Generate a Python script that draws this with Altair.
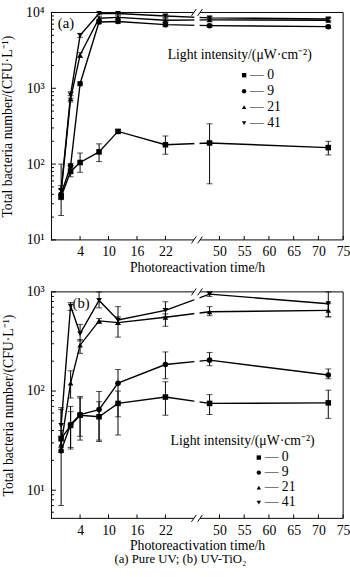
import altair as alt
import pandas as pd

FONT = "Liberation Serif"

# ---------------- data ----------------
times = [0, 2, 4, 8, 12, 22, 48, 72]
series_names = ["0", "9", "21", "41"]
series_shapes = ["square", "circle", "triangle-up", "triangle-down"]

# panel (a) Pure UV
a_0 = [37, 80, 105, 145, 270, 180, 190, 165]
a_0_lo = [21, 68, 78, 108, 255, 135, 55, 132]
a_0_hi = [100, 95, 140, 185, 285, 235, 340, 200]
a_9 = [40, 95, 1150, 7500, 7600, 6900, 6700, 6500]
a_9_lo = [34, 88, 1080, 7100, 7200, 6500, 6400, 6200]
a_9_hi = [46, 102, 1220, 7900, 8000, 7300, 7000, 6800]
a_21 = [42, 730, 2750, 8400, 8600, 7900, 8000, 7900]
a_21_lo = [36, 660, 2550, 8000, 8200, 7500, 7600, 7500]
a_21_hi = [48, 800, 2950, 8800, 9000, 8300, 8400, 8300]
a_41 = [45, 820, 5000, 9700, 9700, 9000, 8500, 8200]
a_41_lo = [38, 740, 4700, 9300, 9300, 8600, 8100, 7800]
a_41_hi = [52, 900, 5300, 10000, 10000, 9400, 8900, 8600]

# panel (b) UV-TiO2
b_0 = [33, 45, 57, 55, 75, 87, 75, 76]
b_0_lo = [27, 26, 32, 31, 55, 57, 58, 53]
b_0_hi = [40, 62, 88, 78, 100, 124, 92, 102]
b_9 = [25, 46, 58, 65, 120, 185, 205, 145]
b_9_lo = [7, 27, 35, 32, 36, 133, 180, 133]
b_9_hi = [68, 70, 85, 99, 165, 248, 245, 167]
b_21 = [29, 120, 290, 510, 490, 555, 630, 650]
b_21_lo = [24, 85, 240, 480, 350, 450, 575, 560]
b_21_hi = [35, 160, 330, 540, 560, 600, 710, 760]
b_41 = [45, 720, 380, 820, 520, 650, 950, 760]
b_41_lo = [35, 650, 320, 690, 470, 560, 900, 560]
b_41_hi = [65, 780, 470, 1000, 710, 795, 1000, 1000]

x_ticks = [4, 10, 16, 22, 50, 55, 60, 65, 70, 75]
y_major_a = [10, 100, 1000, 10000]
y_major_b = [10, 100, 1000]

# ---------------- broken x axis transform ----------------
def xpos(t):
    return t if t < 30 else 33.4 + (t - 50) * 1.0435

X_DOM = [-2.14, 59.49]
BRK_L, BRK_R = 28.0, 29.3
W = 298


def minor_ticks(lo, hi):
    out = []
    d = 1
    while d <= hi:
        for m in range(2, 10):
            v = m * d
            if lo <= v <= hi:
                out.append(v)
        d *= 10
    return out


def make_panel(vals, los, his, ydom, H, ymajor, tag, tag_x, sym_x, row_y0,
               row_dy, lt_x, lt_y, caption=None):
    rows = []
    for name, v, lo, hi in zip(series_names, vals, los, his):
        for t, a, b, c in zip(times, v, lo, hi):
            rows.append(dict(series=name, pos=xpos(t), val=a, lo=b, hi=c))
    df = pd.DataFrame(rows)
    caps = pd.concat([
        df[["pos"]].assign(cap=df["lo"]),
        df[["pos"]].assign(cap=df["hi"]),
    ])

    xscale = alt.Scale(domain=X_DOM, nice=False, zero=False)
    yscale = alt.Scale(type="log", domain=ydom, nice=False)
    shape_scale = alt.Scale(domain=series_names, range=series_shapes)
    xaxis = alt.Axis(
        values=[xpos(t) for t in x_ticks],
        labelExpr="datum.value < 30 ? format(datum.value, 'd') : "
                  "format(50 + (datum.value - 33.4) / 1.0435, '.0f')",
        ticks=False, domain=False, grid=False, labelFlush=False,
        labelOverlap=False, labelPadding=5, labelFont=FONT,
        labelFontSize=14, labelColor="black",
        title="Photoreactivation time/h", titleFont=FONT, titleFontSize=14,
        titleFontWeight="normal", titleColor="black", titlePadding=2,
    )
    yaxis = alt.Axis(
        values=ymajor,
        labelExpr="datum.value == 10 ? '10¹' : datum.value == 100 ? '10²' : "
                  "datum.value == 1000 ? '10³' : '10⁴'",
        ticks=False, grid=False, domainColor="black", domainWidth=1,
        labelFont=FONT, labelFontSize=14, labelColor="black", labelPadding=7,
        labelFlush=False, labelOverlap=False,
        title="Total bacteria number/(CFU·L⁻¹)", titleFont=FONT,
        titleFontSize=14, titleFontWeight="normal", titleColor="black",
        titlePadding=11,
    )

    def X(f):
        return alt.X(f, type="quantitative", scale=xscale, axis=xaxis)

    def Y(f):
        return alt.Y(f, type="quantitative", scale=yscale, axis=yaxis)

    one = pd.DataFrame({"k": [0]})

    lines = alt.Chart(df).mark_line(color="black", strokeWidth=1.4).encode(
        x=X("pos"), y=Y("val"), detail="series:N")
    err = alt.Chart(df).mark_rule(color="black", strokeWidth=1).encode(
        x=X("pos"), y=Y("lo"), y2="hi")
    cap = alt.Chart(caps).mark_tick(color="black", orient="horizontal",
                                    size=6, thickness=1).encode(
        x=X("pos"), y=Y("cap"))
    pts = alt.Chart(df).mark_point(filled=True, size=32, opacity=1,
                                   color="black").encode(
        x=X("pos"), y=Y("val"),
        shape=alt.Shape("series:N", scale=shape_scale, legend=None))

    band = alt.Chart(pd.DataFrame({"a": [BRK_L + 0.1], "b": [BRK_R - 0.1]})
                     ).mark_rect(color="white").encode(
        x=X("a"), x2="b", y=alt.value(1), y2=alt.value(H - 1))

    seg = pd.DataFrame({"a": [X_DOM[0], BRK_R], "b": [BRK_L, X_DOM[1]]})
    top_b = alt.Chart(seg).mark_rule(color="black", strokeWidth=1).encode(
        x=X("a"), x2="b", y=alt.value(0))
    bot_b = alt.Chart(seg).mark_rule(color="black", strokeWidth=1).encode(
        x=X("a"), x2="b", y=alt.value(H))
    right_b = alt.Chart(one).mark_rule(color="black", strokeWidth=1).encode(
        x=alt.value(W), y=alt.value(0), y2=alt.value(H))

    sl = pd.DataFrame({"a": [BRK_L - 0.5, BRK_R - 0.5],
                       "b": [BRK_L + 0.5, BRK_R + 0.5]})
    sl_top = alt.Chart(sl).mark_rule(color="black", strokeWidth=1).encode(
        x=X("a"), x2="b", y=alt.value(3.5), y2=alt.value(-3.5))
    sl_bot = alt.Chart(sl).mark_rule(color="black", strokeWidth=1).encode(
        x=X("a"), x2="b", y=alt.value(H + 3.5), y2=alt.value(H - 3.5))

    xt = alt.Chart(pd.DataFrame({"p": [xpos(t) for t in x_ticks]})).mark_rule(
        color="black", strokeWidth=1).encode(
        x=X("p"), y=alt.value(H), y2=alt.value(H - 4))
    ytM = alt.Chart(pd.DataFrame({"v": ymajor})).mark_rule(
        color="black", strokeWidth=1).encode(
        y=Y("v"), x=alt.value(0), x2=alt.value(5))
    ytm = alt.Chart(pd.DataFrame({"v": minor_ticks(ydom[0], ydom[1])})).mark_rule(
        color="black", strokeWidth=1).encode(
        y=Y("v"), x=alt.value(0), x2=alt.value(3))

    tag_t = alt.Chart(one).mark_text(align="left", baseline="middle",
                                     font=FONT, fontSize=15,
                                     color="black").encode(
        x=alt.value(tag_x), y=alt.value(11), text=alt.value(tag))
    lt = alt.Chart(one).mark_text(align="left", baseline="middle", font=FONT,
                                  fontSize=14, color="black").encode(
        x=alt.value(lt_x), y=alt.value(lt_y),
        text=alt.value("Light intensity/(μW·cm⁻²)"))

    layers = [lines, err, cap, pts, band, top_b, bot_b, right_b, sl_top,
              sl_bot, xt, ytM, ytm, tag_t, lt]

    # legend entries (symbol through the shape scale + label)
    for i, name in enumerate(series_names):
        yy = row_y0 + i * row_dy
        layers.append(
            alt.Chart(pd.DataFrame({"series": [name]})).mark_point(
                filled=True, size=20, opacity=1, color="black").encode(
                x=alt.value(sym_x), y=alt.value(yy),
                shape=alt.Shape("series:N", scale=shape_scale, legend=None)))
        layers.append(
            alt.Chart(pd.DataFrame({"series": [name]})).mark_text(
                align="left", baseline="middle", font=FONT, fontSize=14,
                color="black").encode(
                x=alt.value(sym_x + 6), y=alt.value(yy),
                text=alt.Text("series:N", format="")).transform_calculate(
                series="'— ' + datum.series"))

    if caption:
        layers.append(alt.Chart(one).mark_text(
            align="center", baseline="middle", font=FONT, fontSize=13,
            color="black").encode(
            x=alt.value(132), y=alt.value(H + 42), text=alt.value(caption)))
    return alt.layer(*layers).properties(width=W, height=H)


top = make_panel([a_0, a_9, a_21, a_41], [a_0_lo, a_9_lo, a_21_lo, a_41_lo],
                 [a_0_hi, a_9_hi, a_21_hi, a_41_hi], [10, 10000], 232,
                 y_major_a, "(a)", 7, 197, 64, 16.3, 119, 43)
bottom = make_panel([b_0, b_9, b_21, b_41], [b_0_lo, b_9_lo, b_21_lo, b_41_lo],
                    [b_0_hi, b_9_hi, b_21_hi, b_41_hi], [5.2, 1000], 231,
                    y_major_b, "(b)", 22, 212, 169, 15.3, 122, 152,
                    caption="(a) Pure UV; (b) UV-TiO₂")

chart = alt.vconcat(top, bottom, spacing=11).resolve_scale(
    x="independent", y="independent", shape="independent"
).properties(
    padding={"left": 1, "top": 0, "right": 0, "bottom": 0}
).configure_view(stroke=None)

chart.save("out.html", embed_options={"renderer": "svg", "actions": False})
